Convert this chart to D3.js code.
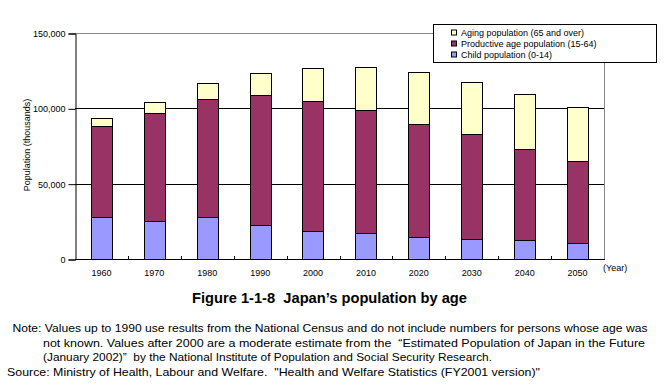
<!DOCTYPE html>
<html>
<head>
<meta charset="utf-8">
<script src="https://cdn.jsdelivr.net/npm/d3@7"></script>
<style>
  body { margin: 0; background: #fff; }
  svg { display: block; font-family: Arial, "Liberation Sans", sans-serif; }
  text { white-space: pre; }
</style>
</head>
<body>
<svg id="chart" width="664" height="392"></svg>
<script>
// data, thousands of persons
let years = ['1960', '1970', '1980', '1990', '2000', '2010', '2020', '2030', '2040', '2050'];
let child = [28.1, 25.0, 27.7, 22.4, 18.4, 17.0, 14.9, 13.1, 12.4, 10.6].map(v => v * 1000);
let productive = [60.3, 72.1, 78.3, 86.2, 86.2, 81.7, 74.5, 69.6, 60.4, 54.2].map(v => v * 1000);
let aging = [5.4, 7.4, 10.6, 14.8, 22.0, 28.6, 34.5, 34.7, 36.5, 35.9].map(v => v * 1000);
let seriesNames = ['Child population (0-14)', 'Productive age population (15-64)', 'Aging population (65 and over)'];
let colors = ['#9999ff', '#993366', '#ffffcc'];
let yTicks = [0, 50000, 100000, 150000];

let svg = d3.select('#chart');
let pLeft = 75, pRight = 604, pTop = 33, pBottom = 259;

let x = d3.scaleBand().domain(years).range([pLeft, pRight]).paddingInner(0.6).paddingOuter(0.3);
let y = d3.scaleLinear().domain([0, 150000]).range([pBottom, pTop]);

let rows = years.map((yr, i) => ({year: yr, s0: child[i], s1: productive[i], s2: aging[i]}));
let stacked = d3.stack().keys(['s0', 's1', 's2'])(rows);

// frame: top and right in grey
svg.append('path')
  .attr('d', `M${pLeft},${pTop + 0.5}H${pRight + 0.5}V${pBottom}`)
  .attr('fill', 'none').attr('stroke', '#888').attr('stroke-width', 1);

// gridlines
svg.selectAll('line.grid').data(yTicks.filter(t => t > 0 && t < 150000)).enter()
  .append('line').attr('class', 'grid')
  .attr('x1', pLeft).attr('x2', pRight)
  .attr('y1', d => Math.round(y(d)) + 0.5).attr('y2', d => Math.round(y(d)) + 0.5)
  .attr('stroke', '#000');

// bars
svg.selectAll('g.series').data(stacked).enter().append('g')
  .attr('fill', (d, i) => colors[i])
  .selectAll('rect').data(d => d).enter().append('rect')
  .attr('x', d => Math.round(x(d.data.year)) + 0.5)
  .attr('width', Math.round(x.bandwidth()))
  .attr('y', d => Math.round(y(d[1])) + 0.5)
  .attr('height', d => Math.round(y(d[0])) - Math.round(y(d[1])))
  .attr('stroke', '#000').attr('stroke-width', 1);

// y axis
let yAxis = d3.axisLeft(y).tickValues(yTicks).tickSize(7).tickPadding(3)
  .tickFormat(d3.format(','));
svg.append('g').attr('transform', `translate(${pLeft + 0.5},0.5)`).call(yAxis)
  .call(g => g.selectAll('text').attr('font-size', 9).attr('fill', '#000'))
  .call(g => g.selectAll('line,path').attr('stroke', '#000'));

// x axis with inner ticks at category boundaries
svg.append('line').attr('x1', pLeft).attr('x2', pRight + 1)
  .attr('y1', pBottom + 0.5).attr('y2', pBottom + 0.5).attr('stroke', '#000');
let step = x.step();
let bounds = d3.range(1, years.length).map(i => pLeft + i * step);
svg.selectAll('line.xt').data(bounds).enter().append('line')
  .attr('x1', d => Math.round(d) + 0.5).attr('x2', d => Math.round(d) + 0.5)
  .attr('y1', pBottom).attr('y2', pBottom - 3).attr('stroke', '#000');
svg.selectAll('text.xl').data(years).enter().append('text')
  .attr('x', d => x(d) + x.bandwidth() / 2).attr('y', 276)
  .attr('text-anchor', 'middle').attr('font-size', 9).text(d => d);
svg.append('text').attr('x', 603).attr('y', 271).attr('font-size', 9).text('(Year)');

// y title
svg.append('text').attr('transform', 'translate(30,145) rotate(-90)')
  .attr('text-anchor', 'middle').attr('font-size', 9).text('Population (thousands)');

// legend
let lg = svg.append('g');
lg.append('rect').attr('x', 433.5).attr('y', 24.5).attr('width', 223).attr('height', 38)
  .attr('fill', '#fff').attr('stroke', '#000');
let legendOrder = [2, 1, 0];
legendOrder.forEach((si, k) => {
  let cy = 32.5 + k * 11;
  lg.append('rect').attr('x', 451.5).attr('y', cy - 2.5).attr('width', 5).attr('height', 5)
    .attr('fill', colors[si]).attr('stroke', '#000');
  lg.append('text').attr('x', 461).attr('y', cy + 3.5).attr('font-size', 9).text(seriesNames[si]);
});

// title
svg.append('text').attr('x', 192).attr('y', 303)
  .attr('font-size', 14).attr('font-weight', 'bold')
  .attr('textLength', 275).attr('lengthAdjust', 'spacingAndGlyphs')
  .text('Figure 1-1-8  Japan\u2019s population by age');

// notes
let notes = [
  {x: 12.5, y: 331.5, w: 635, t: 'Note: Values up to 1990 use results from the National Census and do not include numbers for persons whose age was'},
  {x: 43, y: 346.5, w: 602, t: 'not known. Values after 2000 are a moderate estimate from the  \u201CEstimated Population of Japan in the Future'},
  {x: 43, y: 361, w: 449, t: '(January 2002)\u201D  by the National Institute of Population and Social Security Research.'},
  {x: 7, y: 375.5, w: 533, t: 'Source: Ministry of Health, Labour and Welfare.  "Health and Welfare Statistics (FY2001 version)"'}
];
svg.selectAll('text.note').data(notes).enter().append('text')
  .attr('x', d => d.x).attr('y', d => d.y).attr('font-size', 11.5)
  .attr('textLength', d => d.w).attr('lengthAdjust', 'spacingAndGlyphs')
  .text(d => d.t);
</script>
</body>
</html>
